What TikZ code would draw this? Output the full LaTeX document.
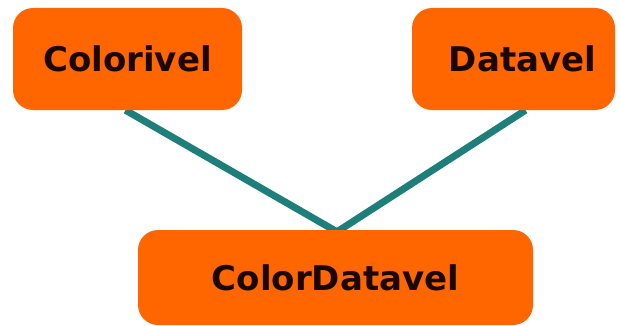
\documentclass[tikz,border=0pt]{standalone}
\usepackage{fontspec}
\setmainfont{DejaVu Sans}
\usetikzlibrary{backgrounds}
\definecolor{boxorange}{HTML}{FF6600}
\definecolor{linkteal}{HTML}{1E7E7A}
\definecolor{labeldark}{HTML}{1A0800}
\begin{document}
\begin{tikzpicture}[x=1pt,y=-1pt,
  classbox/.style={fill=boxorange,draw=none,rounded corners=20pt,
    text=labeldark,font=\bfseries\fontsize{34}{40}\selectfont,inner sep=0pt},
  link/.style={draw=linkteal,line width=7pt}]
  \useasboundingbox (0,0) rectangle (620,326);
  \node[classbox,minimum width=229pt,minimum height=102pt] (colorivel) at (127.5,59) {Colorivel};
  \node[classbox,minimum width=203pt,minimum height=102pt] (datavel) at (513.5,59) {\hspace*{18pt}Datavel};
  \node[classbox,minimum width=395pt,minimum height=95pt] (colordatavel) at (335.5,277.5) {ColorDatavel};
  \coordinate (join) at ([xshift=1.5pt,yshift=-2pt]colordatavel.north);
  \begin{scope}[on background layer]
    \draw[link] ([xshift=-2pt]colorivel.south) -- (join) -- ([xshift=12pt]datavel.south);
  \end{scope}
\end{tikzpicture}
\end{document}
